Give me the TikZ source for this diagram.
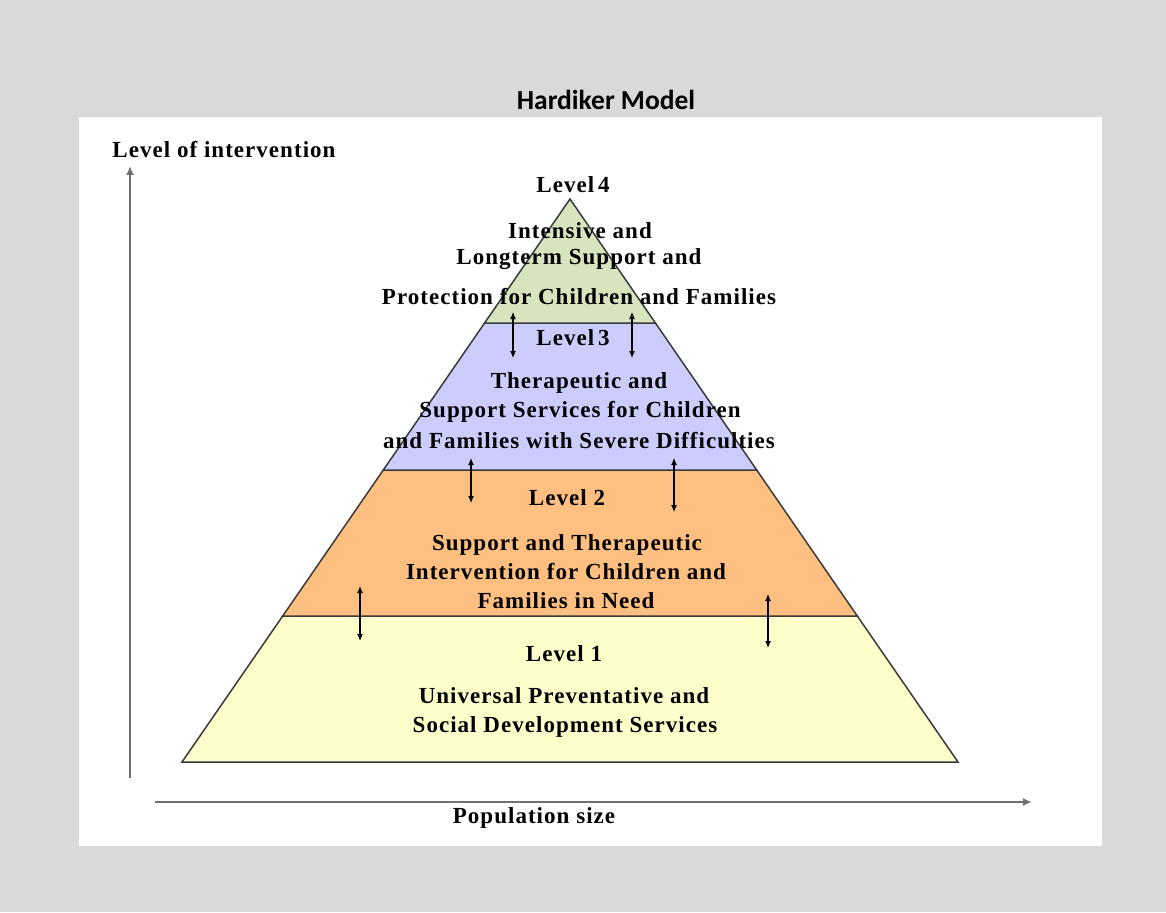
\documentclass[tikz,border=0pt]{standalone}
\usepackage{fontspec}
\setmainfont{Liberation Serif}[LetterSpace=4.5]
\newfontfamily\titlefont{Carlito}
\usetikzlibrary{arrows.meta}
\definecolor{bggray}{HTML}{D9D9D9}
\definecolor{lvlfour}{HTML}{D7E4BD}
\definecolor{lvlthree}{HTML}{CCCCFF}
\definecolor{lvltwo}{HTML}{FFBF80}
\definecolor{lvlone}{HTML}{FFFFCC}
\definecolor{edge}{HTML}{3A3A3A}
\definecolor{axis}{HTML}{707070}

\begin{document}
\begin{tikzpicture}[x=1pt,y=-1pt]
\tikzstyle{lbl}=[font=\bfseries\fontsize{23}{26}\selectfont,inner sep=0]
\tikzstyle{layer}=[draw=edge,line width=1.5pt,line join=miter]
\tikzstyle{flow}=[{Latex[length=7pt,width=6pt]}-{Latex[length=7pt,width=6pt]},line width=1.1pt]
\useasboundingbox (0,0) rectangle (1166,912);
\fill[bggray] (0,0) rectangle (1166,912);
\fill[white] (79,117) rectangle (1102,846);
\node[font=\titlefont\bfseries\fontsize{27.5}{30}\selectfont,inner sep=0] (title) at (606,100) {Hardiker Model};

% pyramid layers
\filldraw[layer,fill=lvlone] (282.7,616) -- (857.3,616) -- (958,762) -- (182,762) -- cycle;
\filldraw[layer,fill=lvltwo] (383.3,470) -- (756.7,470) -- (857.3,616) -- (282.7,616) -- cycle;
\filldraw[layer,fill=lvlthree] (484.6,323) -- (655.4,323) -- (756.7,470) -- (383.3,470) -- cycle;
\filldraw[layer,fill=lvlfour] (570,199) -- (655.4,323) -- (484.6,323) -- cycle;

% axes
\coordinate (vlow) at (130,778);
\coordinate (vtop) at (130,166);
\coordinate (hleft) at (155,802);
\coordinate (hright) at (1032,802);
\draw[axis,line width=2pt,-{Latex[length=9pt,width=8pt]}] (vlow) -- (vtop);
\draw[axis,line width=2pt,-{Latex[length=9pt,width=8pt]}] (hleft) -- (hright);
\node[lbl] (ylab) at (224,150) {Level of intervention};
\node[lbl] (xlab) at (534,818) {Population size};

% labels
\foreach \n/\x/\y/\t in {l4/573/185/Level\,4,l4a/580/231/Intensive and,l4b/579/259/Longterm Support and,l4c/579/297/Protection for Children and Families,
l3/573/338/Level\,3,l3a/579/383/Therapeutic and,l3b/580/412/Support Services for Children,l3c/579/441/and Families with Severe Difficulties,
l2/567/498/Level 2,l2a/567/545/Support and Therapeutic,l2b/566/572/Intervention for Children and,l2c/566/601/Families in Need,
l1/564/654/Level 1,l1a/564/696/Universal Preventative and,l1b/565/727/Social Development Services}{
\node[lbl] (\n) at (\x,\y) {\t};
};

% two-way arrows between levels
\foreach \n/\x/\ya/\yb in {a/513/312/358,b/632/312/358,c/471/458/503,d/674/458/512,e/360/586/641,f/768/594/648}{
\coordinate (\n up) at (\x,\ya);
\coordinate (\n dn) at (\x,\yb);
\draw[flow] (\n up) -- (\n dn);
};
\end{tikzpicture}
\end{document}
